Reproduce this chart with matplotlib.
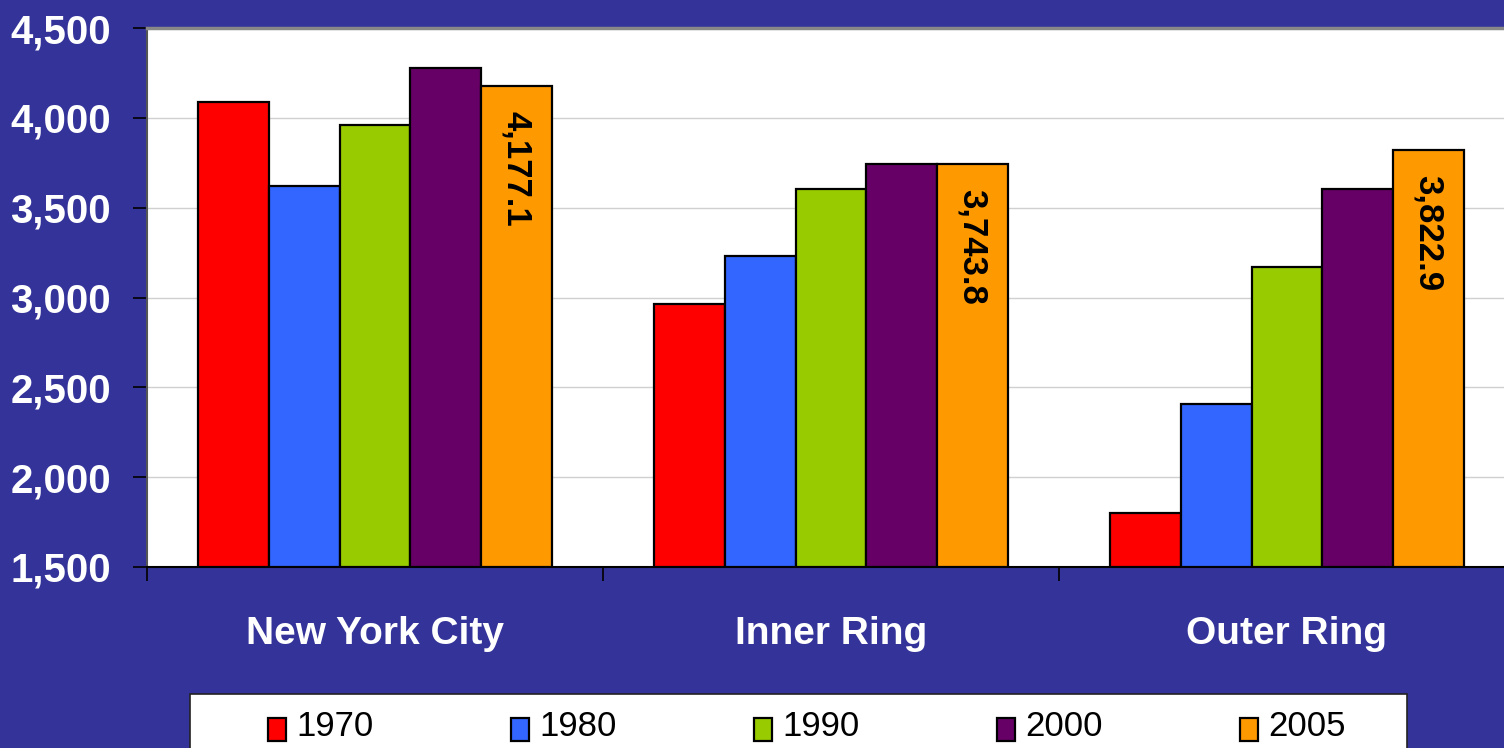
import matplotlib
matplotlib.use("Agg")
import matplotlib.pyplot as plt
from matplotlib.patches import Rectangle
import numpy as np
from matplotlib import font_manager

categories = ["New York City", "Inner Ring", "Outer Ring"]
years = ["1970", "1980", "1990", "2000", "2005"]
v1970 = [4088, 2964, 1800]
v1980 = [3621, 3231, 2407]
v1990 = [3962, 3604, 3170]
v2000 = [4277, 3743, 3604]
v2005 = [4177.1, 3743.8, 3822.9]
series = [v1970, v1980, v1990, v2000, v2005]
colors = ["#FF0000", "#3366FF", "#99CC00", "#660066", "#FF9900"]
yticks = [1500, 2000, 2500, 3000, 3500, 4000, 4500]

names = {f.name for f in font_manager.fontManager.ttflist}
narrow = "Liberation Sans Narrow" if "Liberation Sans Narrow" in names else "Liberation Sans"
plt.rcParams["font.family"] = ["Liberation Sans", "DejaVu Sans"]

BG = "#333399"
W, H = 1504, 748
fig = plt.figure(figsize=(W / 100, H / 100), dpi=100, facecolor=BG)
ax = fig.add_axes([147 / W, (H - 567) / H, 1368 / W, 539 / H])
ax.set_facecolor("white")

x = np.arange(len(categories))
bw = 0.155
for i, (vals, c) in enumerate(zip(series, colors)):
    xs = x + (i - 2) * bw
    ax.bar(xs, np.array(vals) - 1500, bottom=1500, width=bw, color=c,
           edgecolor="black", linewidth=1.6, zorder=3)
    if years[i] == "2005":
        for xi, v in zip(xs, vals):
            ax.annotate(f"{v:,.1f}", (xi, v), xytext=(0, -18), textcoords="offset points",
                        rotation=-90, ha="center", va="top", fontsize=25,
                        fontweight="bold", color="black", zorder=4)

ax.set_xlim(-0.5, 2.5)
ax.set_ylim(1500, 4500)
ax.set_yticks(yticks)
ax.set_yticklabels([f"{t:,}" for t in yticks])
ax.yaxis.grid(True, color="#d0d0d0", linewidth=1.0, zorder=0)
ax.tick_params(axis="y", direction="out", length=10, width=1.2, color="black",
               labelcolor="white", labelsize=29, pad=16)
for lab in ax.get_yticklabels():
    lab.set_fontweight("bold")

ax.set_xticks([-0.5, 0.5, 1.5, 2.5])
ax.set_xticklabels([])
ax.set_xticks(x, minor=True)
ax.set_xticklabels(categories, minor=True)
ax.tick_params(axis="x", which="major", direction="out", length=10, width=1.2, color="black")
ax.tick_params(axis="x", which="minor", length=0, labelcolor="white", labelsize=28, pad=35)
for lab in ax.get_xticklabels(minor=True):
    lab.set_fontweight("bold")

ax.spines["top"].set_color("#888888")
ax.spines["top"].set_linewidth(2.5)
ax.spines["right"].set_visible(False)
ax.spines["left"].set_color("#555555")
ax.spines["left"].set_linewidth(1.5)
ax.spines["bottom"].set_color("black")
ax.spines["bottom"].set_linewidth(1.5)

# legend box
fig.patches.append(Rectangle((190 / W, -0.05), (1407 - 190) / W, (H - 694) / H + 0.05,
                             transform=fig.transFigure, facecolor="white",
                             edgecolor="#222222", linewidth=1.2, zorder=5))
for i, (yr, c) in enumerate(zip(years, colors)):
    mx = 268 + 243 * i
    fig.patches.append(Rectangle((mx / W, (H - 741) / H), 18 / W, 23 / H,
                                 transform=fig.transFigure, facecolor=c,
                                 edgecolor="black", linewidth=1.6, zorder=6))
    fig.text((mx + 28) / W, (H - 726) / H, yr, ha="left", va="center",
             fontsize=25, family=[narrow, "DejaVu Sans"], color="black", zorder=7)

fig.savefig("out.png", dpi=100, facecolor=BG)
